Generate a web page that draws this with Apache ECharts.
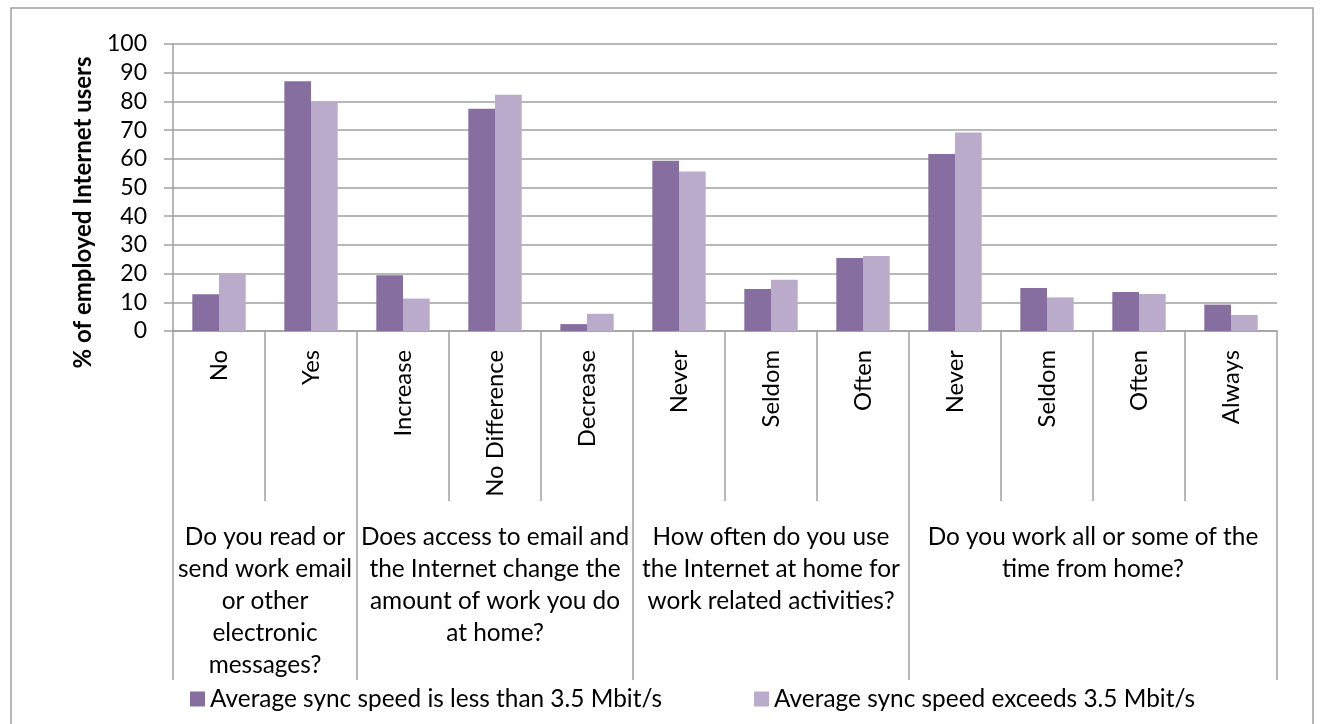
<!DOCTYPE html>
<html>
<head>
<meta charset="utf-8">
<script src="https://cdn.jsdelivr.net/npm/echarts@6/dist/echarts.min.js"></script>
<style>
html,body{margin:0;padding:0;background:#fff;}
#c{width:1323px;height:724px;}
</style>
</head>
<body>
<div id="c"></div>
<script>
// ---- data ----
const categories = ['No', 'Yes', 'Increase', 'No Difference', 'Decrease', 'Never', 'Seldom', 'Often', 'Never', 'Seldom', 'Often', 'Always'];
const groupLabels = [
  'Do you read or\nsend work email\nor other\nelectronic\nmessages?',
  'Does access to email and\nthe Internet change the\namount of work you do\nat home?',
  'How often do you use\nthe Internet at home for\nwork related activities?',
  'Do you work all or some of the\ntime from home?'
];
const groupSizes = [2, 3, 3, 4];
const seriesNames = ['Average sync speed is less than 3.5 Mbit/s', 'Average sync speed exceeds 3.5 Mbit/s'];
const slowValues = [12.8, 87.0, 19.4, 77.4, 2.4, 59.3, 14.6, 25.4, 61.7, 15.0, 13.6, 9.2];
const fastValues = [20.0, 79.8, 11.3, 82.3, 6.0, 55.6, 17.9, 26.1, 69.2, 11.7, 12.9, 5.6];
const yMin = 0, yMax = 100, yInterval = 10;
const yAxisName = '% of employed Internet users';

// derived group boundaries / centers
const groupBounds = [0];
groupSizes.forEach(s => groupBounds.push(groupBounds[groupBounds.length - 1] + s));
const groupCenters = groupSizes.map((s, i) => groupBounds[i] + s / 2);

const FONT = 'Lato';
const GRAY = '#a0a0a0';

const chart = echarts.init(document.getElementById('c'));
chart.setOption({
  animation: false,
  textStyle: { fontFamily: FONT, color: '#000' },
  grid: { left: 173, right: 46, top: 44, bottom: 393, containLabel: false },
  legend: {
    data: seriesNames,
    left: 190, top: 687,
    itemWidth: 15, itemHeight: 15, itemGap: 92,
    icon: 'rect',
    padding: 0,
    textStyle: { fontFamily: FONT, fontSize: 24.4, color: '#000' }
  },
  xAxis: [
    {
      type: 'category',
      data: categories,
      position: 'bottom',
      boundaryGap: true,
      axisLine: { show: true, lineStyle: { color: GRAY, width: 1.5 } },
      axisTick: { show: true, interval: 0, length: 170, lineStyle: { color: GRAY, width: 1.5 } },
      axisLabel: { interval: 0, rotate: 90, margin: 19, fontFamily: FONT, fontSize: 23.8, color: '#000' },
      splitLine: { show: false }
    },
    {
      type: 'value',
      position: 'bottom',
      min: groupBounds[0], max: groupBounds[groupBounds.length - 1],
      axisLine: { show: false },
      splitLine: { show: false },
      axisTick: { show: true, customValues: groupBounds, length: 349, lineStyle: { color: GRAY, width: 1.5 } },
      axisLabel: {
        customValues: groupCenters,
        formatter: v => groupLabels[groupCenters.indexOf(v)],
        margin: 190,
        fontFamily: FONT, fontSize: 24.4, lineHeight: 32, color: '#000',
        align: 'center', verticalAlign: 'top'
      }
    }
  ],
  yAxis: {
    type: 'value',
    min: yMin, max: yMax, interval: yInterval,
    name: yAxisName,
    nameLocation: 'middle',
    nameGap: 78,
    nameTextStyle: { fontFamily: FONT, fontSize: 24, fontWeight: 'bold', color: '#000', padding: [0, 50, 0, 0] },
    axisLine: { show: true, lineStyle: { color: GRAY, width: 1.5 } },
    axisTick: { show: true, length: 9, lineStyle: { color: GRAY, width: 1.5 } },
    axisLabel: { margin: 26, fontFamily: FONT, fontSize: 23, color: '#000' },
    splitLine: { show: true, lineStyle: { color: GRAY, width: 1.5 } }
  },
  series: [
    { name: seriesNames[0], type: 'bar', xAxisIndex: 0, data: slowValues, barGap: '0%', barCategoryGap: '42%', itemStyle: { color: '#866fa0' } },
    { name: seriesNames[1], type: 'bar', xAxisIndex: 0, data: fastValues, barGap: '0%', barCategoryGap: '42%', itemStyle: { color: '#b9abc9' } }
  ],
  graphic: [
    { type: 'rect', silent: true, z: -10, shape: { x: 11, y: 8, width: 1302, height: 730 }, style: { fill: 'none', stroke: GRAY, lineWidth: 1.5 } }
  ]
});
</script>
</body>
</html>
